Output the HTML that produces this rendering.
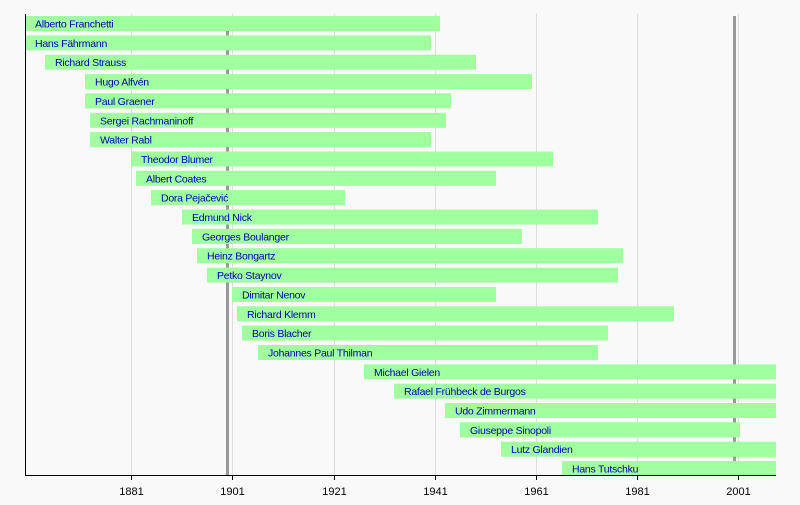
<!DOCTYPE html>
<html><head><meta charset="utf-8"><style>
html,body{margin:0;padding:0;background:#f9f9f9}
svg{display:block}
text{font-family:"Liberation Sans",sans-serif}
</style></head><body>
<svg width="800" height="505" viewBox="0 0 800 505" xmlns="http://www.w3.org/2000/svg">
<rect width="800" height="505" fill="#f9f9f9"/>
<g stroke="#dddddd" stroke-width="1">
<line x1="131.5" y1="14" x2="131.5" y2="475"/>
<line x1="232.5" y1="14" x2="232.5" y2="475"/>
<line x1="334.5" y1="14" x2="334.5" y2="475"/>
<line x1="435.5" y1="14" x2="435.5" y2="475"/>
<line x1="536.5" y1="14" x2="536.5" y2="475"/>
<line x1="637.5" y1="14" x2="637.5" y2="475"/>
<line x1="738.5" y1="14" x2="738.5" y2="475"/>
</g>
<rect x="226" y="16" width="3" height="459" fill="#999"/>
<rect x="733" y="16" width="3" height="459" fill="#999"/>
<g fill="#a0ff9e" id="bars"></g>
<g fill="#0000aa" font-size="10.5" letter-spacing="-0.25" id="labels"></g>
<line x1="25.5" y1="14" x2="25.5" y2="475.5" stroke="#000" stroke-width="1"/>
<line x1="25" y1="475.5" x2="776" y2="475.5" stroke="#000" stroke-width="1"/>
<g stroke="#000">
<line x1="131.5" y1="475" x2="131.5" y2="480"/>
<line x1="232.5" y1="475" x2="232.5" y2="480"/>
<line x1="334.5" y1="475" x2="334.5" y2="480"/>
<line x1="435.5" y1="475" x2="435.5" y2="480"/>
<line x1="536.5" y1="475" x2="536.5" y2="480"/>
<line x1="637.5" y1="475" x2="637.5" y2="480"/>
<line x1="738.5" y1="475" x2="738.5" y2="480"/>
</g>
<g font-size="11" fill="#000" text-anchor="middle">
<text x="131.5" y="495">1881</text>
<text x="232.5" y="495">1901</text>
<text x="334.5" y="495">1921</text>
<text x="435.5" y="495">1941</text>
<text x="536.5" y="495">1961</text>
<text x="637.5" y="495">1981</text>
<text x="738.5" y="495">2001</text>
</g>
</svg>
<script>
var d=[["Alberto Franchetti",25,440],["Hans Fährmann",25,431],["Richard Strauss",45,476],["Hugo Alfvén",85,532],["Paul Graener",85,451],["Sergei Rachmaninoff",90,446],["Walter Rabl",90,431],["Theodor Blumer",131,553],["Albert Coates",136,496],["Dora Pejačević",151,345],["Edmund Nick",182,598],["Georges Boulanger",192,522],["Heinz Bongartz",197,623],["Petko Staynov",207,618],["Dimitar Nenov",232,496],["Richard Klemm",237,674],["Boris Blacher",242,608],["Johannes Paul Thilman",258,598],["Michael Gielen",364,776],["Rafael Frühbeck de Burgos",394,776],["Udo Zimmermann",445,776],["Giuseppe Sinopoli",460,740],["Lutz Glandien",501,776],["Hans Tutschku",562,776]];
var ns="http://www.w3.org/2000/svg",b=document.getElementById("bars"),l=document.getElementById("labels");
d.forEach(function(r,i){var y=16+i*19.35;
var e=document.createElementNS(ns,"rect");e.setAttribute("x",r[1]);e.setAttribute("y",y.toFixed(1));e.setAttribute("width",r[2]-r[1]);e.setAttribute("height",15);b.appendChild(e);
var t=document.createElementNS(ns,"text");t.setAttribute("x",r[1]+10);t.setAttribute("y",(y+11.5).toFixed(1));t.textContent=r[0];l.appendChild(t);});
</script>
</body></html>
